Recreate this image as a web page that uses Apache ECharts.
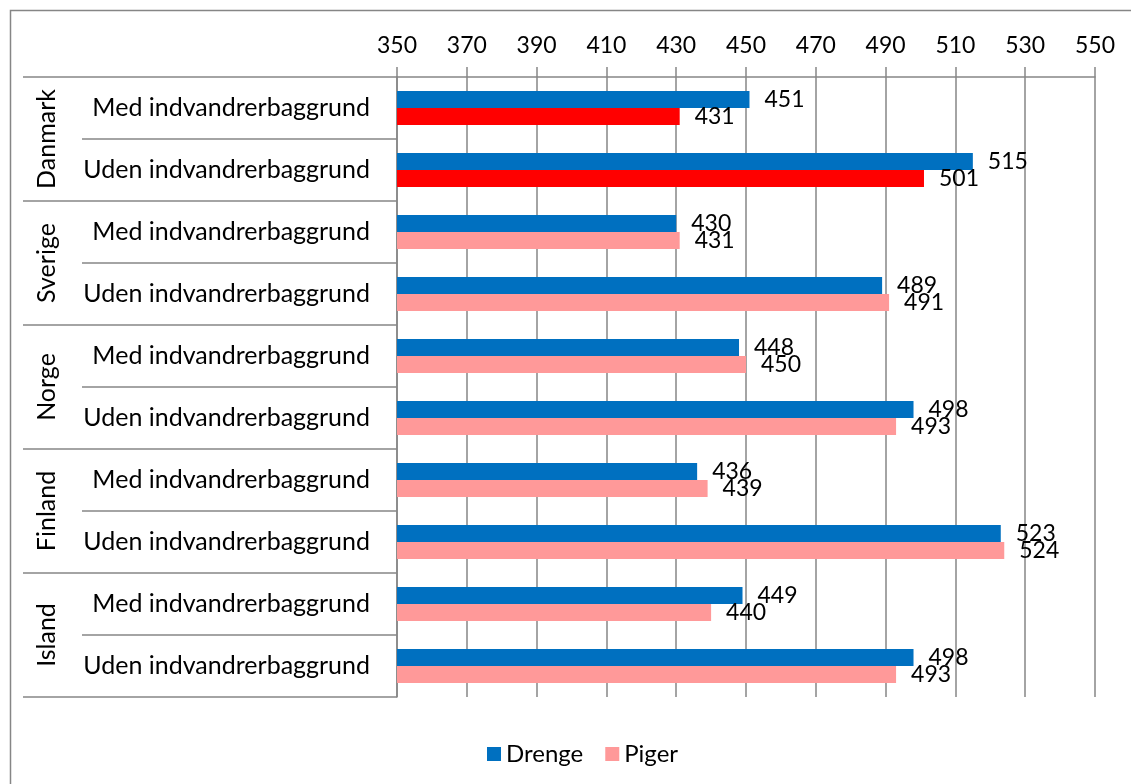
<!DOCTYPE html>
<html><head><meta charset="utf-8">
<script src="https://cdn.jsdelivr.net/npm/echarts@6/dist/echarts.min.js"></script>
<style>html,body{margin:0;padding:0;background:#fff}#c{width:1131px;height:784px}</style>
</head><body><div id="c"></div>
<script>
const countries = ['Danmark','Sverige','Norge','Finland','Island'];
const groups = ['Med indvandrerbaggrund','Uden indvandrerbaggrund','Med indvandrerbaggrund','Uden indvandrerbaggrund','Med indvandrerbaggrund','Uden indvandrerbaggrund','Med indvandrerbaggrund','Uden indvandrerbaggrund','Med indvandrerbaggrund','Uden indvandrerbaggrund'];
const drenge = [451,515,430,489,448,498,436,523,449,498];
const piger = [431,501,431,491,450,493,439,524,440,493];
const seriesNames = ['Drenge','Piger'];

const FONT = 'Lato';
const GRAY = '#868686';
const chart = echarts.init(document.getElementById('c'));
chart.setOption({
  animation:false,
  textStyle:{fontFamily:FONT,color:'#000'},
  graphic:[{type:'rect',shape:{x:10.5,y:10.5,width:1130,height:780},style:{fill:'none',stroke:GRAY,lineWidth:1.5},silent:true}],
  grid:{left:397,right:36,top:77,bottom:87},
  legend:{left:482,top:737,itemWidth:14,itemHeight:14,itemGap:22,icon:'rect',
    textStyle:{fontSize:24,color:'#000',fontFamily:FONT},data:seriesNames},
  xAxis:{type:'value',position:'top',min:350,max:550,interval:20,
    axisLine:{show:true,lineStyle:{color:GRAY,width:1.5}},
    axisTick:{show:true,length:10,lineStyle:{color:GRAY,width:1.5}},
    splitLine:{show:true,lineStyle:{color:GRAY,width:1.5}},
    axisLabel:{fontSize:23,color:'#000',margin:20,fontFamily:FONT}},
  yAxis:[
    {type:'category',inverse:true,data:groups,
     axisLine:{show:true,lineStyle:{color:GRAY,width:1.5}},
     axisTick:{show:true,interval:0,length:315,lineStyle:{color:GRAY,width:1.5}},
     axisLabel:{interval:0,fontSize:25,color:'#000',margin:27,fontFamily:FONT}},
    {type:'category',inverse:true,data:countries,position:'left',offset:315,
     axisLine:{show:false},
     axisTick:{show:true,interval:0,length:59,lineStyle:{color:GRAY,width:1.5}},
     axisLabel:{interval:0,fontSize:25,color:'#000',rotate:90,margin:23,fontFamily:FONT}}
  ],
  series:[
    {name:seriesNames[0],type:'bar',barWidth:17,barGap:0,data:drenge,
     itemStyle:{color:'#0070C0'},
     label:{show:true,position:'right',distance:15,fontSize:23,color:'#000',fontFamily:FONT}},
    {name:seriesNames[1],type:'bar',barWidth:17,barGap:0,
     data:piger.map((v,i)=> i<2 ? {value:v,itemStyle:{color:'#FF0000'}} : v),
     itemStyle:{color:'#FF9999'},
     label:{show:true,position:'right',distance:15,fontSize:23,color:'#000',fontFamily:FONT}}
  ]
});
</script></body></html>
